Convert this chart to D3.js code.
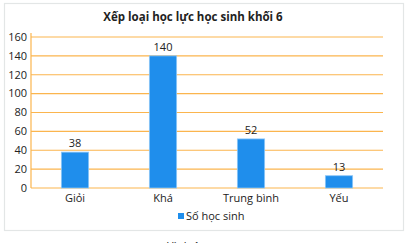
<!DOCTYPE html>
<html>
<head>
<meta charset="utf-8">
<script src="https://cdn.jsdelivr.net/npm/d3@7/dist/d3.min.js"></script>
<style>
  body { margin: 0; background: #fff; }
  svg { display: block; font-family: "Open Sans", "Noto Sans", sans-serif; }
</style>
</head>
<body>
<div id="chart"></div>
<script>
const categories = ["Giỏi", "Khá", "Trung bình", "Yếu"];
const values = [38, 140, 52, 13];
const yTicks = [0, 20, 40, 60, 80, 100, 120, 140, 160];
const title = "Xếp loại học lực học sinh khối 6";
const seriesName = "Số học sinh";
const caption = "Hình 1";

const width = 411, height = 243;
const margin = { top: 37, right: 28, bottom: 55, left: 31 };

const svg = d3.select("#chart").append("svg")
    .attr("width", width)
    .attr("height", height);

// light frame around the chart
svg.append("rect")
    .attr("x", 4.5).attr("y", 3.5)
    .attr("width", 399).attr("height", 227)
    .attr("fill", "none")
    .attr("stroke", "#e3e6e6")
    .attr("stroke-width", 1.2);

const x = d3.scaleBand()
    .domain(categories)
    .range([margin.left, width - margin.right])
    .paddingInner(0.69)
    .paddingOuter(0.345);

const y = d3.scaleLinear()
    .domain([0, 160])
    .range([height - margin.bottom, margin.top]);

// gridlines
svg.append("g")
    .selectAll("line")
    .data(yTicks)
    .enter().append("line")
    .attr("x1", margin.left)
    .attr("x2", width - margin.right)
    .attr("y1", d => y(d))
    .attr("y2", d => y(d))
    .attr("stroke", "#fbb54e")
    .attr("stroke-width", 1.2);

// y axis line
svg.append("line")
    .attr("x1", margin.left).attr("x2", margin.left)
    .attr("y1", y(160) - 4).attr("y2", y(0))
    .attr("stroke", "#fbb54e")
    .attr("stroke-width", 1.2);

// y tick labels
svg.append("g")
    .selectAll("text")
    .data(yTicks)
    .enter().append("text")
    .attr("x", margin.left - 4)
    .attr("y", d => y(d))
    .attr("dy", "0.35em")
    .attr("text-anchor", "end")
    .attr("font-size", 11)
    .attr("fill", "#222")
    .text(d => d);

// bars
svg.append("g")
    .selectAll("rect")
    .data(values)
    .enter().append("rect")
    .attr("x", (d, i) => x(categories[i]))
    .attr("y", d => y(d))
    .attr("width", x.bandwidth())
    .attr("height", d => y(0) - y(d))
    .attr("fill", "#1f8eec")
    .attr("stroke", "#8cc6f7")
    .attr("stroke-width", 0.8);

// value labels
svg.append("g")
    .selectAll("text")
    .data(values)
    .enter().append("text")
    .attr("x", (d, i) => x(categories[i]) + x.bandwidth() / 2)
    .attr("y", d => y(d) - 5)
    .attr("text-anchor", "middle")
    .attr("font-size", 11)
    .attr("fill", "#222")
    .text(d => d);

// category labels
svg.append("g")
    .selectAll("text")
    .data(categories)
    .enter().append("text")
    .attr("x", d => x(d) + x.bandwidth() / 2)
    .attr("y", y(0) + 14)
    .attr("text-anchor", "middle")
    .attr("font-size", 11)
    .attr("fill", "#222")
    .text(d => d);

// title
svg.append("text")
    .attr("x", 193)
    .attr("y", 21)
    .attr("text-anchor", "middle")
    .attr("font-size", 11.5)
    .attr("font-weight", "bold")
    .attr("fill", "#222")
    .text(title);

// legend
const legend = svg.append("g").attr("transform", "translate(178, 216)");
legend.append("rect")
    .attr("x", 0).attr("y", -3)
    .attr("width", 6).attr("height", 6)
    .attr("fill", "#1f8eec");
legend.append("text")
    .attr("x", 8)
    .attr("y", 0)
    .attr("dy", "0.35em")
    .attr("font-size", 11)
    .attr("fill", "#222")
    .text(seriesName);

// caption, partly cut off at the bottom edge
svg.append("text")
    .attr("x", 183)
    .attr("y", 250)
    .attr("text-anchor", "middle")
    .attr("font-size", 11)
    .attr("fill", "#222")
    .text(caption);
</script>
</body>
</html>
